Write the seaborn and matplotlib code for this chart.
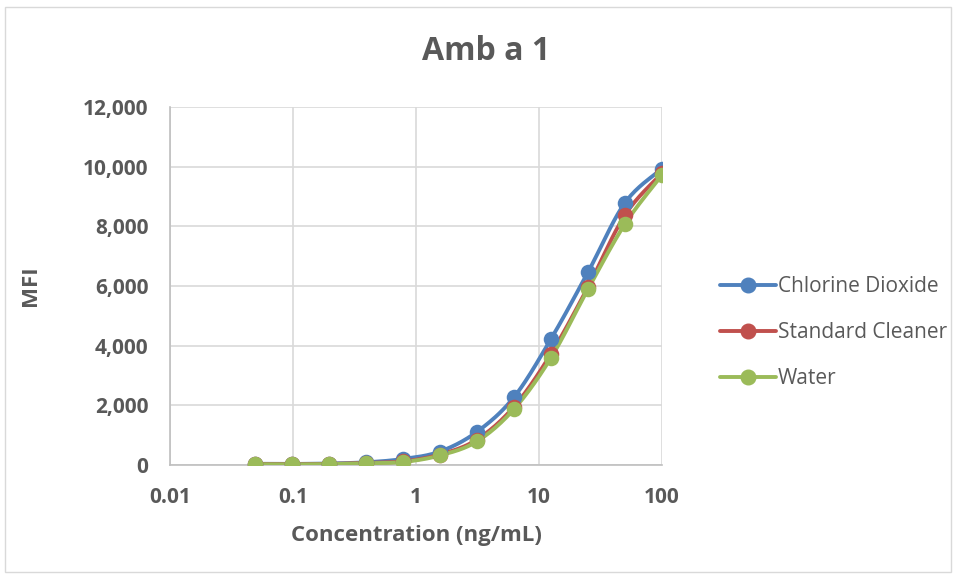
import numpy as np
import pandas as pd
import matplotlib
matplotlib.use("Agg")
import matplotlib.pyplot as plt
import seaborn as sns
from matplotlib.lines import Line2D
from matplotlib.ticker import FixedLocator, FuncFormatter

# ---- data ----
concentration = [0.0488, 0.0977, 0.195, 0.39, 0.78, 1.5625, 3.125, 6.25, 12.5, 25, 50, 100]
chlorine_dioxide = [40, 35, 50, 90, 200, 450, 1110, 2270, 4220, 6460, 8790, 9930]
standard_cleaner = [30, 25, 35, 70, 120, 350, 850, 1950, 3720, 5960, 8380, 9780]
water = [25, 20, 30, 60, 100, 320, 790, 1870, 3590, 5890, 8080, 9720]
series_names = ["Chlorine Dioxide", "Standard Cleaner", "Water"]
x_ticks = [0.01, 0.1, 1, 10, 100]
x_tick_labels = ["0.01", "0.1", "1", "10", "100"]
y_ticks = [0, 2000, 4000, 6000, 8000, 10000, 12000]

colors = {"Chlorine Dioxide": "#4F81BD", "Standard Cleaner": "#C0504D", "Water": "#9BBB59"}
TXT = "#595959"

df = pd.DataFrame({
    "x": concentration * 3,
    "y": chlorine_dioxide + standard_cleaner + water,
    "series": sum([[n] * len(concentration) for n in series_names], []),
})


def smooth(xs, ys, n=20):
    """Catmull-Rom smoothing in log-x space (line rendering only)."""
    lx = np.log10(np.asarray(xs, float))
    yy = np.asarray(ys, float)
    P = np.column_stack([lx, yy / 1000.0])
    P = np.vstack([P[0], P, P[-1]])
    out = []
    for i in range(1, len(P) - 2):
        p0, p1, p2, p3 = P[i - 1], P[i], P[i + 1], P[i + 2]
        t = np.linspace(0, 1, n, endpoint=False)[:, None]
        c1 = p1 + (p2 - p0) / 6.0
        c2 = p2 - (p3 - p1) / 6.0
        pts = ((1 - t) ** 3) * p1 + 3 * ((1 - t) ** 2) * t * c1 + 3 * (1 - t) * t ** 2 * c2 + t ** 3 * p2
        out.append(pts)
    out.append(P[-2][None, :])
    arr = np.vstack(out)
    return 10 ** arr[:, 0], arr[:, 1] * 1000.0


sns.set_style("white")
plt.rcParams["font.family"] = ["Open Sans", "DejaVu Sans"]

fig = plt.figure(figsize=(9.57, 5.78), dpi=100)
ax = fig.add_axes([170 / 957, 1 - 465 / 578, (662 - 170) / 957, (465 - 107) / 578])

for name in series_names:
    sub = df[df.series == name]
    sx, sy = smooth(sub.x.values, sub.y.values)
    sm = pd.DataFrame({"x": sx, "y": sy})
    sns.lineplot(data=sm, x="x", y="y", ax=ax, color=colors[name], linewidth=2.8,
                 sort=False, estimator=None, legend=False, zorder=3)
    sns.scatterplot(data=sub, x="x", y="y", ax=ax, color=colors[name], s=125,
                    edgecolor=colors[name], linewidth=0, legend=False, zorder=4)

ax.set_xscale("log")
ax.set_xlim(0.01, 100)
ax.set_ylim(0, 12000)
ax.xaxis.set_major_locator(FixedLocator(x_ticks))
ax.xaxis.set_minor_locator(FixedLocator([]))
ax.xaxis.set_major_formatter(FuncFormatter(lambda v, p: x_tick_labels[x_ticks.index(v)] if v in x_ticks else ""))
ax.yaxis.set_major_locator(FixedLocator(y_ticks))
ax.yaxis.set_major_formatter(FuncFormatter(lambda v, p: f"{int(v):,}"))

ax.grid(True, color="#D9D9D9", linewidth=1.2)
ax.set_axisbelow(True)
for s in ["top", "right"]:
    ax.spines[s].set_visible(False)
for s in ["left", "bottom"]:
    ax.spines[s].set_color("#BFBFBF")
    ax.spines[s].set_linewidth(1.2)
ax.tick_params(axis="both", which="major", direction="out", length=7, width=1.2,
               color="#BFBFBF", labelcolor=TXT, labelsize=15)
ax.tick_params(axis="y", pad=8.5)
ax.tick_params(axis="x", pad=9)
for lab in ax.get_xticklabels() + ax.get_yticklabels():
    lab.set_fontweight("bold")

ax.set_xlabel("Concentration (ng/mL)", fontsize=16, fontweight="bold", color=TXT)
ax.set_ylabel("MFI", fontsize=16, fontweight="bold", color=TXT)
ax.xaxis.set_label_coords((416 - 170) / 492, (465 - 535) / 358)
ax.xaxis.label.set_va("center")
ax.yaxis.set_label_coords((30 - 170) / 492, (465 - 286) / 358)
ax.yaxis.label.set_va("center")

fig.text(486 / 957, 1 - 51 / 578, "Amb a 1", ha="center", va="center",
         fontsize=23, fontweight="bold", color=TXT)

handles = [Line2D([0], [0], color=colors[n], linewidth=2.8, marker="o", markersize=10.5) for n in series_names]
fig.legend(handles, series_names, loc="center left", bbox_to_anchor=(712 / 957, 1 - 333 / 578),
           frameon=False, fontsize=15, labelcolor=TXT, handlelength=2.65, handletextpad=0.12,
           labelspacing=1.2, borderpad=0, borderaxespad=0.4)

# outer chart border
fig.patches.append(plt.Rectangle((5 / 957, 1 - 572 / 578), 946 / 957, 565 / 578,
                                 transform=fig.transFigure, fill=False, edgecolor="#D9D9D9", linewidth=1))

fig.savefig("out.png", dpi=100)
